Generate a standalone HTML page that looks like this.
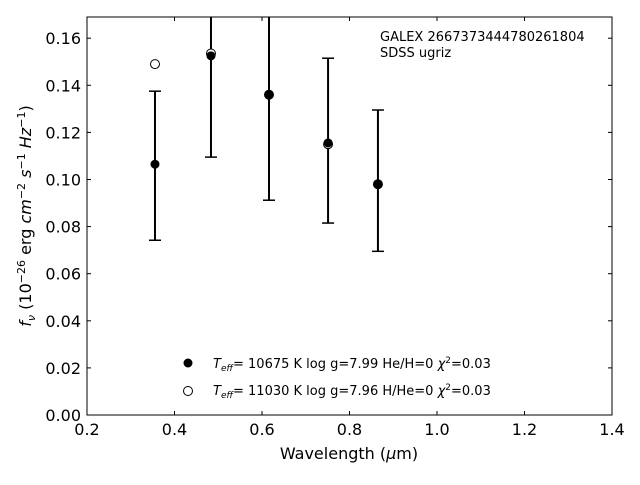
<!DOCTYPE html>
<html><head><meta charset="utf-8"><style>
body{margin:0;background:#fff;font-family:"Liberation Sans","DejaVu Sans",sans-serif;}
svg text{font-family:"DejaVu Sans","Liberation Sans",sans-serif;}
</style></head><body>
<svg id="chart" width="640" height="480" xmlns="http://www.w3.org/2000/svg">
<rect width="640" height="480" fill="#fff"/>
<g id="plot"></g>
<text x="380" y="41" font-size="13">GALEX 2667373444780261804</text>
<text x="380" y="57" font-size="13">SDSS ugriz</text>
<g>
<circle cx="188" cy="363" r="4.5" fill="#000"/>
<text x="213" y="368" font-size="13"><tspan font-style="italic">T</tspan><tspan font-style="italic" font-size="9" dy="3">eff</tspan><tspan dy="-3">= 10675 K  log g=7.99  He/H=0  </tspan><tspan font-style="italic">χ</tspan><tspan font-size="9" dy="-5">2</tspan><tspan dy="5">=0.03</tspan></text>
<circle cx="188" cy="391" r="4.5" fill="#fff" stroke="#000"/>
<text x="213" y="395" font-size="13"><tspan font-style="italic">T</tspan><tspan font-style="italic" font-size="9" dy="3">eff</tspan><tspan dy="-3">= 11030 K  log g=7.96  H/He=0  </tspan><tspan font-style="italic">χ</tspan><tspan font-size="9" dy="-5">2</tspan><tspan dy="5">=0.03</tspan></text>
</g>
<text x="349" y="459" font-size="16" text-anchor="middle">Wavelength (<tspan font-style="italic">μ</tspan>m)</text>
<text transform="translate(31,216) rotate(-90)" font-size="16" text-anchor="middle"><tspan font-style="italic">f</tspan><tspan font-style="italic" font-size="11" dy="4">ν</tspan><tspan dy="-4"> (10</tspan><tspan font-size="11" dy="-6">−26</tspan><tspan dy="6"> erg </tspan><tspan font-style="italic">cm</tspan><tspan font-size="11" dy="-6">−2</tspan><tspan dy="6"> </tspan><tspan font-style="italic">s</tspan><tspan font-size="11" dy="-6">−1</tspan><tspan dy="6"> </tspan><tspan font-style="italic">Hz</tspan><tspan font-size="11" dy="-6">−1</tspan><tspan dy="6">)</tspan></text>
</svg>
<script>
const wavelengths=[0.3554,0.4834,0.616,0.751,0.865];
const fluxObs=[0.1065,0.1525,0.136,0.1155,0.098];
const errLow=[0.0742,0.1095,0.0912,0.0815,0.0695];
const errHigh=[0.1375,0.175,0.175,0.1515,0.1295];
const fluxModel=[0.149,0.1535,0.136,0.115,0.098];
const xTicks=[0.2,0.4,0.6,0.8,1.0,1.2,1.4];
const yTicks=[0,0.02,0.04,0.06,0.08,0.10,0.12,0.14,0.16];
const X0=87,X1=612,Y0=415,Y1=17,xmin=0.2,xmax=1.4,ymin=0,ymax=0.169;
const sx=v=>X0+(v-xmin)/(xmax-xmin)*(X1-X0);
const sy=v=>Y0-(v-ymin)/(ymax-ymin)*(Y0-Y1);
const NS="http://www.w3.org/2000/svg";
const g=document.getElementById('plot');
function mk(t,a,p){const e=document.createElementNS(NS,t);for(const k in a)e.setAttribute(k,a[k]);(p||g).appendChild(e);return e;}
const clip=mk('clipPath',{id:'cp'});mk('rect',{x:X0,y:Y1,width:X1-X0,height:Y0-Y1},clip);
const frame=mk('rect',{x:X0,y:Y1,width:X1-X0,height:Y0-Y1,fill:'none',stroke:'#000','stroke-width':1});


xTicks.forEach(v=>{const x=sx(v);
mk('line',{x1:x,x2:x,y1:Y0,y2:Y0-4,stroke:'#000'});mk('line',{x1:x,x2:x,y1:Y1,y2:Y1+4,stroke:'#000'});
const t=mk('text',{x:x,y:Y0+20,'font-size':16,'text-anchor':'middle'});t.textContent=v.toFixed(1);

});
yTicks.forEach(v=>{const y=sy(v);
mk('line',{x1:X0,x2:X0+4,y1:y,y2:y,stroke:'#000'});mk('line',{x1:X1,x2:X1-4,y1:y,y2:y,stroke:'#000'});
const t=mk('text',{x:X0-6,y:y+6,'font-size':16,'text-anchor':'end'});t.textContent=v.toFixed(2);

});
const data=mk('g',{'clip-path':'url(#cp)'});
wavelengths.forEach((w,i)=>{const x=sx(w);
const eb=mk('g',{},data);


mk('line',{x1:x,x2:x,y1:sy(errLow[i]),y2:sy(errHigh[i]),stroke:'#000','stroke-width':2},eb);
mk('line',{x1:x-6,x2:x+6,y1:sy(errLow[i]),y2:sy(errLow[i]),stroke:'#000','stroke-width':1.5},eb);
mk('line',{x1:x-6,x2:x+6,y1:sy(errHigh[i]),y2:sy(errHigh[i]),stroke:'#000','stroke-width':1.5},eb);
const m=mk('circle',{cx:x,cy:sy(fluxModel[i]),r:4.5,fill:'#fff',stroke:'#000'},data);


const o=mk('circle',{cx:x,cy:sy(fluxObs[i]),r:4.5,fill:'#000'},data);


});
</script>
</body></html>
